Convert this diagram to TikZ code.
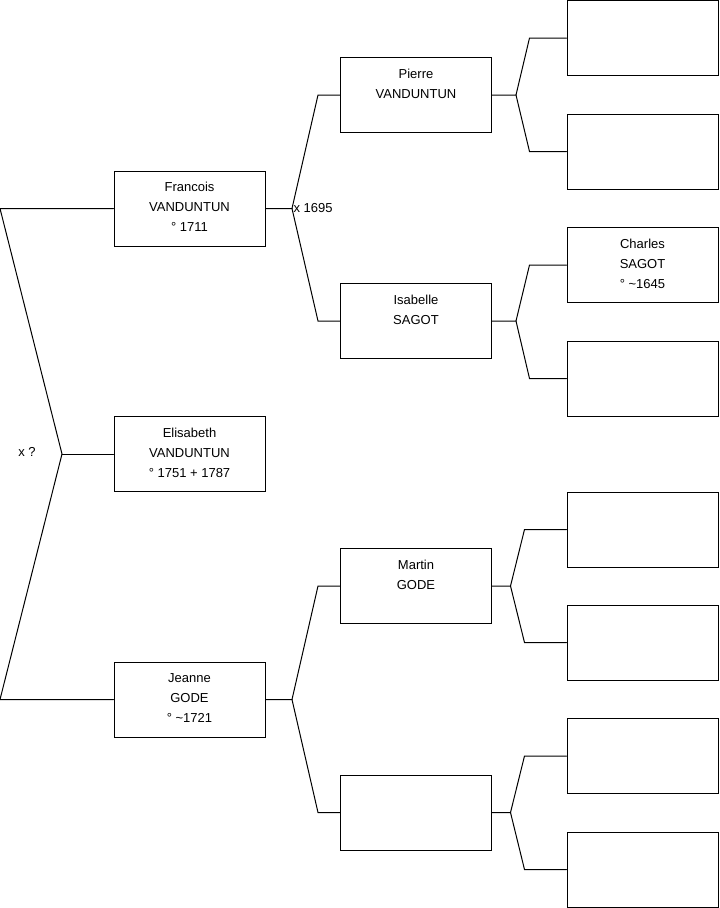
\documentclass[tikz,border=0pt]{standalone}
\usepackage{fontspec}
\setmainfont{Liberation Sans}
\usetikzlibrary{positioning, calc}

% Fourche : parent -> deux enfants (decalage fourche, decalage coude)
\newcommand{\forkto}[5]{%
    \draw[link] (#1.east) -- ++(#4,0) coordinate (#1-fork)
        -- ($(#2.west)+(-#5,0)$) -- (#2.west);
    \draw[link] (#1-fork) -- ($(#3.west)+(-#5,0)$) -- (#3.west);
}

\begin{document}
\begin{tikzpicture}[x=0.75pt, y=-0.75pt, line width=0.75pt,
    person/.style={draw, rectangle, minimum width=113.25pt, minimum height=56.25pt, inner sep=0pt},
    ptext/.style={font=\fontsize{9.75}{15}\selectfont, align=center, inner sep=0pt},
    note/.style={font=\fontsize{9.75}{15}\selectfont, inner sep=0pt},
    link/.style={draw, line cap=round}
]
\useasboundingbox (0,0) rectangle (719,908);

% ============ Generation 2 ============
\node[person] (francois) at (189.5,208.5) {};
\node[ptext, below=8.5pt of francois.north] (francois-t) {Francois\\VANDUNTUN\\° 1711};
\node[person] (elisabeth) at (189.5,454) {};
\node[ptext, below=8.5pt of elisabeth.north] (elisabeth-t) {Elisabeth\\VANDUNTUN\\° 1751 + 1787};
\node[person] (jeanne) at (189.5,699.5) {};
\node[ptext, below=8.5pt of jeanne.north] (jeanne-t) {Jeanne\\GODE\\° \textasciitilde1721};

% ============ Generation 3 ============
\node[person] (pierre) at (416,95) {};
\node[ptext, below=8.5pt of pierre.north] (pierre-t) {Pierre\\VANDUNTUN};
\node[person] (isabelle) at (416,321) {};
\node[ptext, below=8.5pt of isabelle.north] (isabelle-t) {Isabelle\\SAGOT};
\node[person] (martin) at (416,586) {};
\node[ptext, below=8.5pt of martin.north] (martin-t) {Martin\\GODE};
\node[person] (jeanne-m) at (416,812.5) {};

% ============ Generation 4 ============
\node[person] (pierre-f) at (642.5,38) {};
\node[person] (pierre-m) at (642.5,151.5) {};
\node[person] (charles) at (642.5,265) {};
\node[ptext, below=8.5pt of charles.north] (charles-t) {Charles\\SAGOT\\° \textasciitilde1645};
\node[person] (isabelle-m) at (642.5,378.5) {};
\node[person] (martin-f) at (642.5,529.5) {};
\node[person] (martin-m) at (642.5,642.5) {};
\node[person] (jeanne-mf) at (642.5,756) {};
\node[person] (jeanne-mm) at (642.5,869.5) {};

% ============ Liens ============
\coordinate (edge) at (0,0);
\coordinate (union) at (62,454);
\draw[link] (francois.west) -- (francois.west -| edge) -- (union)
    -- (jeanne.west -| edge) -- (jeanne.west);
\draw[link] (union) -- (elisabeth.west);

\forkto{francois}{pierre}{isabelle}{26.5}{22}
\forkto{jeanne}{martin}{jeanne-m}{26.5}{22}
\forkto{pierre}{pierre-f}{pierre-m}{24}{37}
\forkto{isabelle}{charles}{isabelle-m}{24}{37}
\forkto{martin}{martin-f}{martin-m}{18.5}{42}
\forkto{jeanne-m}{jeanne-mf}{jeanne-mm}{18.5}{42}

% Mariages
\node[note] (union-t) at (27,452) {x ?};
\node[note, anchor=west] (francois-u) at ([xshift=0.75pt]francois-fork) {x 1695};

\end{tikzpicture}
\end{document}
